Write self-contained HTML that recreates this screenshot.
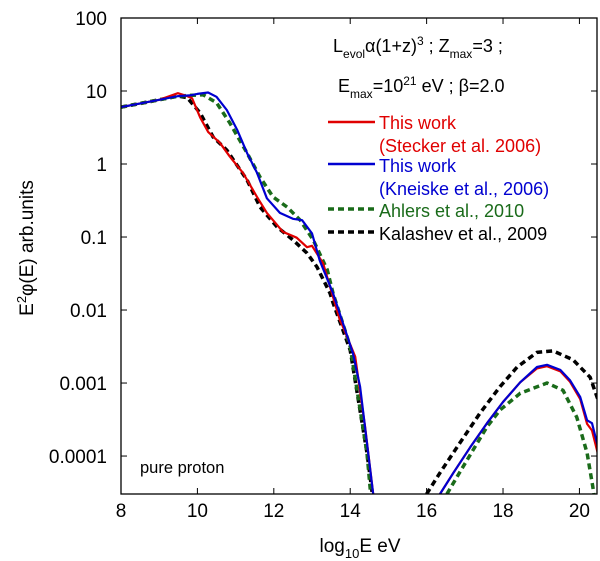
<!DOCTYPE html>
<html><head><meta charset="utf-8"><style>
body{margin:0;background:#fff;}
svg{display:block;font-family:"Liberation Sans",sans-serif;}
</style></head><body>
<svg id="chart" width="600" height="561" viewBox="0 0 600 561">
<defs><clipPath id="plotclip"><rect x="121" y="18" width="476" height="476"/></clipPath></defs>
<g id="axes"></g>
<g id="series" clip-path="url(#plotclip)"></g>
<rect x="121" y="18" width="476" height="476" fill="none" stroke="#000" stroke-width="1.3"/>
<text x="140" y="473" font-size="16.5">pure proton</text>
<text x="333" y="52" font-size="18">L<tspan font-size="12" dy="6">evol</tspan><tspan dy="-6">α(1+z)</tspan><tspan font-size="12" dy="-7">3</tspan><tspan dy="7"> ; Z</tspan><tspan font-size="12" dy="6">max</tspan><tspan dy="-6">=3 ;</tspan></text>
<text x="338" y="92" font-size="18">E<tspan font-size="12" dy="6">max</tspan><tspan dy="-6">=10</tspan><tspan font-size="12" dy="-7">21</tspan><tspan dy="7"> eV ; β=2.0</tspan></text>
<g font-size="18">
<line x1="328" x2="375" y1="122" y2="122" stroke="#e00000" stroke-width="2.5"/>
<text x="379" y="129" fill="#e00000">This work</text>
<text x="379" y="152" fill="#e00000">(Stecker et al. 2006)</text>
<line x1="328" x2="375" y1="164" y2="164" stroke="#0000d0" stroke-width="2.5"/>
<text x="379" y="172" fill="#0000d0">This work</text>
<text x="379" y="195" fill="#0000d0">(Kneiske et al., 2006)</text>
<line x1="328" x2="375" y1="209" y2="209" stroke="#1a6b1a" stroke-width="3.5" stroke-dasharray="6,4"/>
<text x="379" y="217" fill="#1a6b1a">Ahlers et al., 2010</text>
<line x1="328" x2="375" y1="232" y2="232" stroke="#000" stroke-width="3.5" stroke-dasharray="6,4"/>
<text x="379" y="240" fill="#000">Kalashev et al., 2009</text>
</g>
<text x="360" y="552" font-size="19" text-anchor="middle">log<tspan font-size="13" dy="6">10</tspan><tspan dy="-6">E eV</tspan></text>
<text transform="translate(33,248) rotate(-90)" font-size="19" text-anchor="middle">E<tspan font-size="13" dy="-7">2</tspan><tspan dy="7">φ(E) arb.units</tspan></text>
</svg>
<script>
const xTicks = [8, 10, 12, 14, 16, 18, 20];
const yTickExp = [2, 1, 0, -1, -2, -3, -4];
const yTickLabels = ["100", "10", "1", "0.1", "0.01", "0.001", "0.0001"];

// log10 energies and log10 flux values
const steckerE1 = [8, 9.0, 9.49, 9.73, 9.86, 10.07, 10.28, 10.59, 10.85, 11.19, 11.56, 11.82, 12.24, 12.6, 12.87, 13.0, 13.29, 13.73, 13.81, 14.13, 14.39, 14.62];
const steckerL1 = [0.78, 0.88, 0.97, 0.93, 0.90, 0.64, 0.44, 0.29, 0.10, -0.12, -0.45, -0.67, -0.93, -1.01, -1.14, -1.12, -1.36, -2.14, -2.23, -2.64, -3.6, -4.6];
const steckerE2 = [16.35, 16.7, 17.14, 17.58, 18.0, 18.45, 18.89, 19.15, 19.5, 19.75, 20.02, 20.2, 20.33, 20.49, 20.6];
const steckerL2 = [-4.52, -4.23, -3.88, -3.55, -3.26, -2.99, -2.80, -2.77, -2.84, -2.98, -3.22, -3.56, -3.65, -3.98, -4.2];

const kneiskeE1 = [8, 9.0, 9.5, 9.8, 10.0, 10.28, 10.5, 10.77, 11.04, 11.3, 11.56, 11.82, 12.16, 12.5, 12.74, 13.0, 13.2, 13.55, 14.07, 14.26, 14.62];
const kneiskeL1 = [0.78, 0.88, 0.93, 0.94, 0.96, 0.98, 0.92, 0.74, 0.47, 0.15, -0.12, -0.47, -0.67, -0.75, -0.77, -0.95, -1.32, -1.77, -2.59, -3.05, -4.6];
const kneiskeE2 = [16.35, 16.7, 17.14, 17.58, 18.0, 18.45, 18.89, 19.15, 19.5, 19.75, 20.02, 20.2, 20.33, 20.49, 20.6];
const kneiskeL2 = [-4.52, -4.23, -3.88, -3.55, -3.26, -2.99, -2.78, -2.75, -2.82, -2.96, -3.19, -3.51, -3.55, -3.88, -4.1];

const ahlersE1 = [8, 9.0, 9.5, 9.8, 10.15, 10.5, 10.85, 11.3, 11.64, 11.98, 12.35, 12.69, 13.03, 13.4, 13.55, 14.0, 14.44, 14.55];
const ahlersL1 = [0.78, 0.88, 0.93, 0.94, 0.95, 0.84, 0.56, 0.15, -0.18, -0.45, -0.59, -0.77, -1.04, -1.45, -1.77, -2.5, -3.96, -4.6];
const ahlersE2 = [16.53, 16.95, 17.58, 17.92, 18.45, 19.15, 19.57, 19.93, 20.2, 20.35, 20.4];
const ahlersL2 = [-4.52, -4.15, -3.6, -3.37, -3.14, -3.0, -3.1, -3.47, -3.96, -4.42, -4.6];

const kalashevE1 = [8, 9.0, 9.5, 9.73, 10.07, 10.41, 10.77, 11.3, 11.64, 12.08, 12.5, 12.87, 13.13, 13.47, 13.55, 14.0, 14.44, 14.6];
const kalashevL1 = [0.78, 0.88, 0.93, 0.91, 0.70, 0.37, 0.19, -0.22, -0.59, -0.86, -1.04, -1.22, -1.41, -1.77, -1.9, -2.55, -3.96, -4.6];
const kalashevE2 = [16.0, 16.35, 16.87, 17.4, 17.92, 18.37, 18.89, 19.31, 19.83, 20.28, 20.46, 20.6];
const kalashevL2 = [-4.52, -4.23, -3.82, -3.41, -3.05, -2.78, -2.58, -2.56, -2.68, -2.92, -3.19, -3.4];

const NS = "http://www.w3.org/2000/svg";
const X0 = 121, X1 = 597, Y0 = 18, Y1 = 494;
const xMin = 8, xMax = 20.46, yTop = 2, yBot = -4.52;
function xs(v){ return X0 + (v - xMin) / (xMax - xMin) * (X1 - X0); }
function ys(l){ return Y0 + (yTop - l) / (yTop - yBot) * (Y1 - Y0); }

const axes = document.getElementById("axes");
xTicks.forEach(function(t){
  const x = xs(t);
  const l1 = document.createElementNS(NS, "line");
  l1.setAttribute("x1", x); l1.setAttribute("x2", x); l1.setAttribute("y1", Y1); l1.setAttribute("y2", Y1 - 6);
  l1.setAttribute("stroke", "#000");
  
  
  axes.appendChild(l1);
  const l2 = document.createElementNS(NS, "line");
  l2.setAttribute("x1", x); l2.setAttribute("x2", x); l2.setAttribute("y1", Y0); l2.setAttribute("y2", Y0 + 6);
  l2.setAttribute("stroke", "#000");
  
  
  axes.appendChild(l2);
  const tx = document.createElementNS(NS, "text");
  tx.setAttribute("x", x); tx.setAttribute("y", 517); tx.setAttribute("font-size", "19"); tx.setAttribute("text-anchor", "middle");
  tx.textContent = String(t);
  
  
  axes.appendChild(tx);
});
yTickExp.forEach(function(e, i){
  const y = ys(e);
  const l1 = document.createElementNS(NS, "line");
  l1.setAttribute("x1", X0); l1.setAttribute("x2", X0 + 6); l1.setAttribute("y1", y); l1.setAttribute("y2", y);
  l1.setAttribute("stroke", "#000");
  
  
  axes.appendChild(l1);
  const l2 = document.createElementNS(NS, "line");
  l2.setAttribute("x1", X1); l2.setAttribute("x2", X1 - 6); l2.setAttribute("y1", y); l2.setAttribute("y2", y);
  l2.setAttribute("stroke", "#000");
  
  
  axes.appendChild(l2);
  const tx = document.createElementNS(NS, "text");
  tx.setAttribute("x", 107); tx.setAttribute("y", y + 7); tx.setAttribute("font-size", "19"); tx.setAttribute("text-anchor", "end");
  tx.textContent = yTickLabels[i];
  
  
  axes.appendChild(tx);
});

const seriesG = document.getElementById("series");
function drawLine(E, L, color, width, dash, name){
  const p = document.createElementNS(NS, "path");
  let d = "";
  E.forEach(function(e, i){ d += (i ? "L" : "M") + xs(e).toFixed(1) + "," + ys(L[i]).toFixed(1); });
  p.setAttribute("d", d);
  p.setAttribute("fill", "none");
  p.setAttribute("stroke", color);
  p.setAttribute("stroke-width", width);
  p.setAttribute("stroke-linejoin", "round");
  if (dash) p.setAttribute("stroke-dasharray", dash);
  
  
  seriesG.appendChild(p);
}
drawLine(kalashevE1, kalashevL1, "#000", 3.5, "6,4", "kalashev-line-low");
drawLine(kalashevE2, kalashevL2, "#000", 3.5, "6,4", "kalashev-line-high");
drawLine(ahlersE1, ahlersL1, "#1a6b1a", 3.5, "6,4", "ahlers-line-low");
drawLine(ahlersE2, ahlersL2, "#1a6b1a", 3.5, "6,4", "ahlers-line-high");
drawLine(steckerE1, steckerL1, "#e00000", 2.2, null, "stecker-line-low");
drawLine(steckerE2, steckerL2, "#e00000", 2.2, null, "stecker-line-high");
drawLine(kneiskeE1, kneiskeL1, "#0000d0", 2.2, null, "kneiske-line-low");
drawLine(kneiskeE2, kneiskeL2, "#0000d0", 2.2, null, "kneiske-line-high");
</script>
</body></html>
